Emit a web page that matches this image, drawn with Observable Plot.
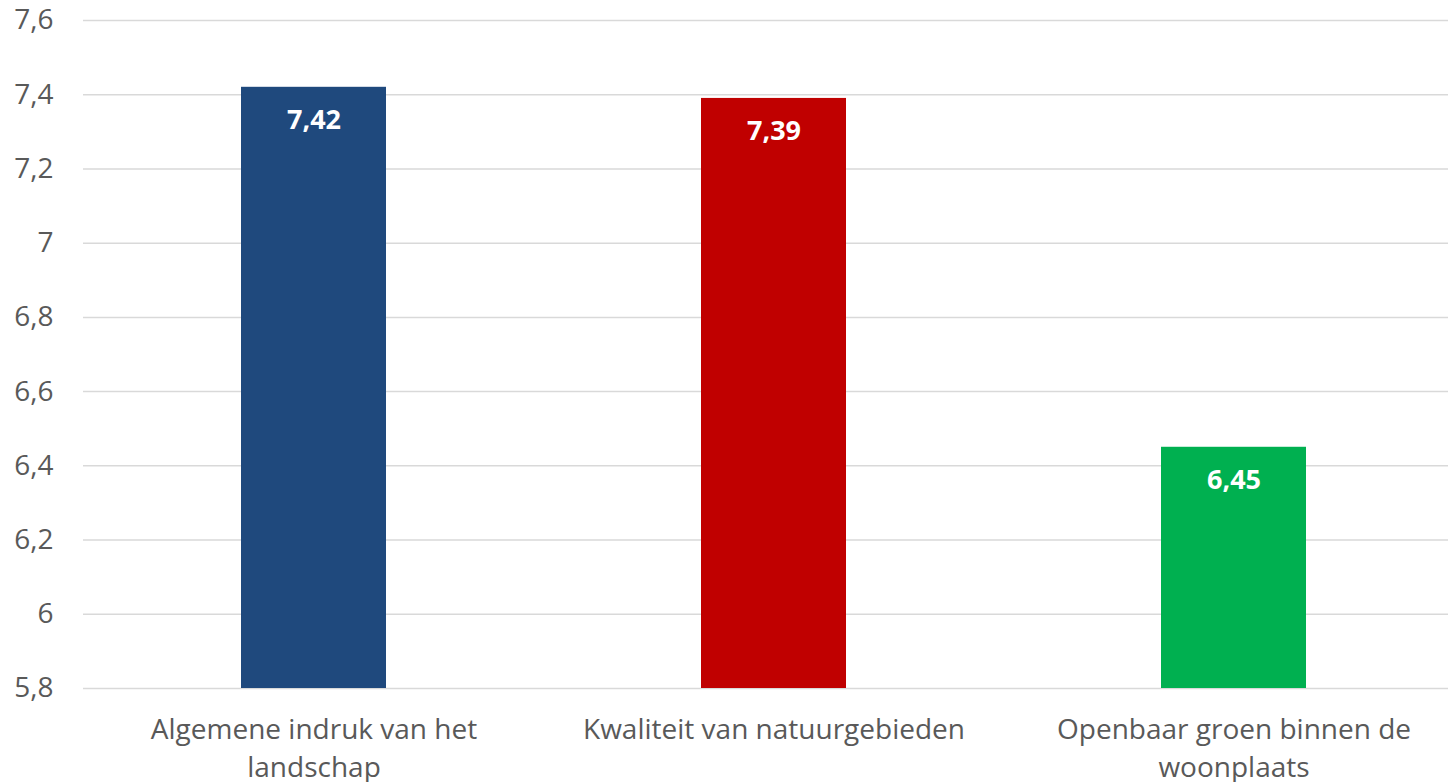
<!DOCTYPE html>
<html>
<head>
<meta charset="utf-8">
<script src="https://cdn.jsdelivr.net/npm/d3@7"></script>
<script src="https://cdn.jsdelivr.net/npm/@observablehq/plot@0.6"></script>
<style>
  html, body { margin: 0; padding: 0; background: #fff; }
  #chart { width: 1448px; height: 782px; overflow: hidden; }
</style>
</head>
<body>
<div id="chart"></div>
<script>
const categories = ["Algemene indruk van het landschap", "Kwaliteit van natuurgebieden", "Openbaar groen binnen de woonplaats"];
const tickLabels = ["Algemene indruk van het\nlandschap", "Kwaliteit van natuurgebieden", "Openbaar groen binnen de\nwoonplaats"];
const values = [7.42, 7.39, 6.45];
const valueLabels = ["7,42", "7,39", "6,45"];
const colors = ["#1F497D", "#C00000", "#00B050"];
const yTicks = [5.8, 6.0, 6.2, 6.4, 6.6, 6.8, 7.0, 7.2, 7.4, 7.6];
const yTickLabels = ["5,8", "6", "6,2", "6,4", "6,6", "6,8", "7", "7,2", "7,4", "7,6"];
const baseline = 5.8;

const data = categories.map((c, i) => ({category: c, value: values[i], label: valueLabels[i], color: colors[i]}));
const tickLabelOf = new Map(categories.map((c, i) => [c, tickLabels[i]]));
const yLabelOf = new Map(yTicks.map((t, i) => [t, yTickLabels[i]]));

const chart = Plot.plot({
  width: 1448,
  height: 782,
  marginLeft: 83,
  marginRight: 0,
  marginTop: 20,
  marginBottom: 94,
  style: {fontFamily: "'Open Sans', sans-serif", background: "#fff"},
  x: {domain: categories, range: [83, 1463], paddingInner: 0.685, paddingOuter: 0.3425, label: null},
  y: {domain: [5.8, 7.6], label: null},
  marks: [
    Plot.ruleY(yTicks, {stroke: "#d9d9d9", strokeWidth: 1.5}),
    Plot.barY(data, {x: "category", y1: baseline, y2: "value", fill: "color"}),
    Plot.text(data, {x: "category", y: "value", text: "label", dy: 33, fill: "#fff", fontWeight: "bold", fontSize: 27}),
    Plot.axisY({ticks: yTicks, tickSize: 0, tickPadding: 30, tickFormat: d => yLabelOf.get(d), fontSize: 28, color: "#595959", label: null}),
    Plot.axisX({tickSize: 0, tickPadding: 23, tickFormat: d => tickLabelOf.get(d), fontSize: 28, lineHeight: 1.36, color: "#595959", label: null})
  ]
});
document.getElementById("chart").appendChild(chart);
</script>
</body>
</html>
